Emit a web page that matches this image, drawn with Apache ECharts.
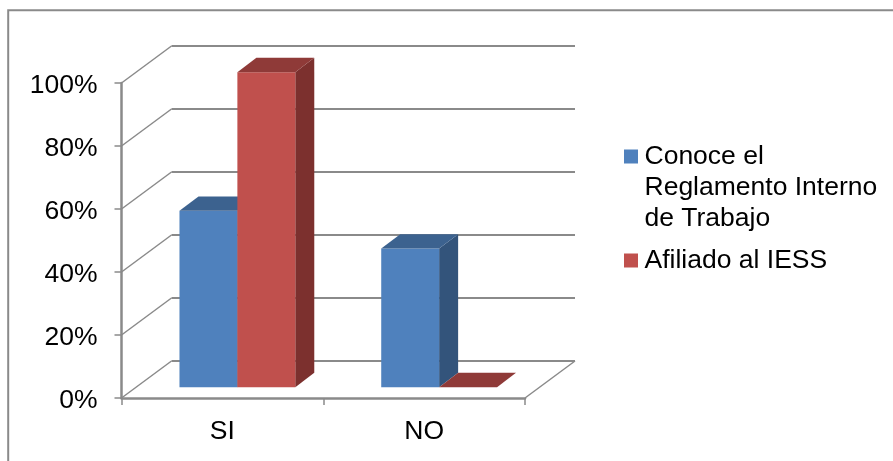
<!DOCTYPE html>
<html>
<head>
<meta charset="utf-8">
<style>
  html, body { margin: 0; padding: 0; background: #fff; }
  #chart { width: 893px; height: 461px; }
</style>
<script src="https://cdn.jsdelivr.net/npm/echarts@6/dist/echarts.min.js"></script>
</head>
<body>
<div id="chart"></div>
<script>
// Survey answers, as shares of respondents
const categories = ['SI', 'NO'];
const conoceReglamento = [0.56, 0.44];
const afiliadoIess = [1, 0];
const valueTicks = [0, 0.2, 0.4, 0.6, 0.8, 1];
const seriesNames = ['Conoce el\nReglamento Interno\nde Trabajo', 'Afiliado al IESS'];

// Oblique projection of the box: how far the back wall sits from the front plane
const WALL_DX = 50;
const WALL_DY = -37;
// Bars stand inside the box, part way back, with a shallower depth of their own
const BAR_DX = 15;
const BAR_DY = -10.8;
const DEPTH_DX = 19;
const DEPTH_DY = -14.4;
const BAR_SHARE = 0.287;

const AXIS_COLOR = '#8a8a8a';
const FONT = '"Liberation Sans", Arial, sans-serif';
const LABEL_SIZE = 26.5;

const palette = [
  { front: '#4f81bd', top: '#3c628f', side: '#33547b' },
  { front: '#c0504d', top: '#8f3a38', side: '#7c302e' }
];

function renderWalls(params, api) {
  const box = params.coordSys;
  const y = api.coord([0, api.value(0)])[1];
  const left = box.x;
  const right = box.x + box.width;
  const backY = y + WALL_DY;
  const children = [
    {
      type: 'line',
      shape: { x1: left, y1: y, x2: left + WALL_DX, y2: backY },
      style: { stroke: AXIS_COLOR, lineWidth: 1.5 }
    },
    {
      type: 'line',
      shape: { x1: left + WALL_DX, y1: backY, x2: right + WALL_DX, y2: backY },
      style: { stroke: AXIS_COLOR, lineWidth: 2 }
    }
  ];
  if (api.value(0) === 0) {
    children.push({
      type: 'line',
      shape: { x1: right, y1: y, x2: right + WALL_DX, y2: backY },
      style: { stroke: AXIS_COLOR, lineWidth: 1.5 }
    });
  }
  return { type: 'group', children };
}

function barRenderer(seriesIndex) {
  const colors = palette[seriesIndex];
  return function (params, api) {
    const center = api.coord([api.value(0), 0]);
    const topPoint = api.coord([api.value(0), api.value(1)]);
    const width = api.size([1, 0])[0] * BAR_SHARE;
    const x0 = center[0] + BAR_DX - width + seriesIndex * width;
    const x1 = x0 + width;
    const yBase = center[1] + BAR_DY;
    const yTop = topPoint[1] + BAR_DY;
    const children = [];
    if (yBase - yTop > 0) {
      children.push({
        type: 'polygon',
        shape: { points: [[x1, yTop], [x1 + DEPTH_DX, yTop + DEPTH_DY], [x1 + DEPTH_DX, yBase + DEPTH_DY], [x1, yBase]] },
        style: { fill: colors.side }
      });
      children.push({
        type: 'rect',
        shape: { x: x0, y: yTop, width: width, height: yBase - yTop },
        style: { fill: colors.front }
      });
    }
    children.push({
      type: 'polygon',
      shape: { points: [[x0, yTop], [x1, yTop], [x1 + DEPTH_DX, yTop + DEPTH_DY], [x0 + DEPTH_DX, yTop + DEPTH_DY]] },
      style: { fill: colors.top }
    });
    return { type: 'group', children };
  };
}

const chart = echarts.init(document.getElementById('chart'), null, { renderer: 'canvas' });

chart.setOption({
  animation: false,
  backgroundColor: '#ffffff',
  textStyle: { fontFamily: FONT },
  graphic: [{
    type: 'rect',
    silent: true,
    z: -10,
    shape: { x: 8.2, y: 10.2, width: 1200, height: 800 },
    style: { fill: null, stroke: AXIS_COLOR, lineWidth: 2 }
  }],
  grid: { left: 121.5, top: 83, width: 403.5, height: 315, containLabel: false },
  xAxis: {
    type: 'category',
    data: categories,
    axisLine: { show: true, lineStyle: { color: AXIS_COLOR, width: 2.5 } },
    axisTick: { show: true, alignWithLabel: false, length: 7, lineStyle: { color: AXIS_COLOR, width: 1.5 } },
    axisLabel: { color: '#000', fontSize: LABEL_SIZE, fontFamily: FONT, margin: 20 },
    splitLine: { show: false }
  },
  yAxis: {
    type: 'value',
    min: 0,
    max: 1,
    interval: 0.2,
    axisLine: { show: true, lineStyle: { color: AXIS_COLOR, width: 2.5 } },
    axisTick: { show: true, length: 7, lineStyle: { color: AXIS_COLOR, width: 1.5 } },
    axisLabel: {
      color: '#000', fontSize: LABEL_SIZE, fontFamily: FONT, margin: 24,
      verticalAlign: 'top', lineHeight: 30, padding: [-12.5, 0, 0, 0],
      formatter: (v) => Math.round(v * 100) + '%'
    },
    splitLine: { show: false }
  },
  legend: {
    orient: 'vertical',
    left: 624,
    top: 79,
    padding: 0,
    itemWidth: 14,
    itemHeight: 14,
    itemGap: 11,
    selectedMode: false,
    icon: 'rect',
    // Two leading blank lines keep the swatch level with the first line of a wrapped name
    formatter: (name) => (name.includes('\n') ? '\n\n' + name : name),
    textStyle: { color: '#000', fontSize: LABEL_SIZE, fontFamily: FONT, lineHeight: 31, padding: [0, 0, 0, 1.5] },
    data: [
      { name: seriesNames[0], itemStyle: { color: palette[0].front } },
      { name: seriesNames[1], itemStyle: { color: palette[1].front } }
    ]
  },
  series: [
    {
      type: 'custom',
      name: 'walls',
      silent: true,
      z: 1,
      clip: false,
      renderItem: renderWalls,
      encode: { y: 0 },
      data: valueTicks.map((t) => [t])
    },
    {
      type: 'custom',
      name: seriesNames[0],
      z: 2,
      clip: false,
      itemStyle: { color: palette[0].front },
      renderItem: barRenderer(0),
      encode: { x: 0, y: 1 },
      data: categories.map((c, i) => [i, conoceReglamento[i]])
    },
    {
      type: 'custom',
      name: seriesNames[1],
      z: 3,
      clip: false,
      itemStyle: { color: palette[1].front },
      renderItem: barRenderer(1),
      encode: { x: 0, y: 1 },
      data: categories.map((c, i) => [i, afiliadoIess[i]])
    }
  ]
});
</script>
</body>
</html>
